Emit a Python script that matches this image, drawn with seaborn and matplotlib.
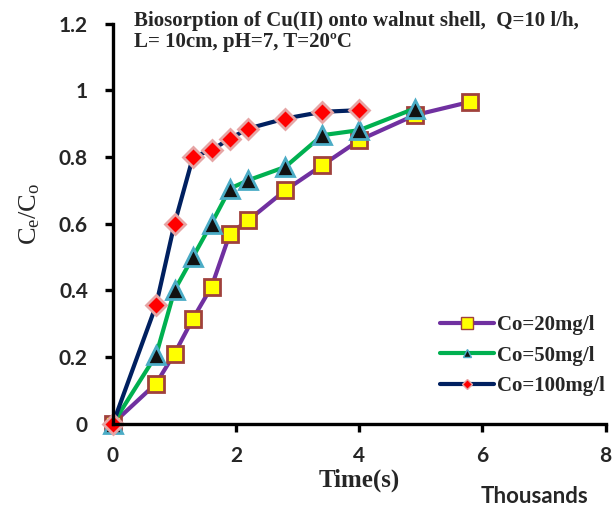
import matplotlib
matplotlib.use("Agg")
import matplotlib.pyplot as plt
from matplotlib.lines import Line2D
import pandas as pd
import seaborn as sns

# time in thousands of seconds, Ce/Co for each inlet concentration
time_20 = [0, 0.7, 1.0, 1.3, 1.6, 1.9, 2.2, 2.8, 3.4, 4.0, 4.9, 5.8]
ratio_20 = [0, 0.12, 0.21, 0.315, 0.41, 0.57, 0.61, 0.70, 0.775, 0.85, 0.925, 0.965]

time_50 = [0, 0.7, 1.0, 1.3, 1.6, 1.9, 2.2, 2.8, 3.4, 4.0, 4.9]
ratio_50 = [0, 0.205, 0.40, 0.50, 0.60, 0.705, 0.73, 0.77, 0.865, 0.88, 0.945]

time_100 = [0, 0.7, 1.0, 1.3, 1.6, 1.9, 2.2, 2.8, 3.4, 4.0]
ratio_100 = [0, 0.355, 0.60, 0.80, 0.82, 0.855, 0.885, 0.915, 0.935, 0.94]

labels = ["Co=20mg/l", "Co=50mg/l", "Co=100mg/l"]
y_ticks = [0, 0.2, 0.4, 0.6, 0.8, 1, 1.2]
y_tick_labels = ["0", "0.2", "0.4", "0.6", "0.8", "1", "1.2"]
x_ticks = [0, 2, 4, 6, 8]

sns.set_style("white")
plt.rcParams["font.family"] = ["Liberation Serif", "DejaVu Serif"]
plt.rcParams["mathtext.default"] = "regular"

series = [
    (time_20, ratio_20, dict(color="#7030A0", marker="s", ms=12, mfc="#FFFF00", mec="#A0413C", mew=2)),
    (time_50, ratio_50, dict(color="#00B050", marker="^", ms=13, mfc="#111111", mec="#4BACC6", mew=2)),
    (time_100, ratio_100, dict(color="#002060", marker="D", ms=10, mfc="#FF0000", mec="#E6A5A5", mew=2)),
]

fig = plt.figure(figsize=(6.13, 5.11), dpi=100)
ax = fig.add_axes([0.1843, 0.1712, 0.8037, 0.7828])

for (t, r, st), lab in zip(series, labels):
    df = pd.DataFrame({"time": t, "ratio": r})
    sns.lineplot(data=df, x="time", y="ratio", ax=ax, color=st["color"], linewidth=3,
                 marker=st["marker"], markersize=st["ms"], markerfacecolor=st["mfc"],
                 markeredgecolor=st["mec"], markeredgewidth=st["mew"], clip_on=False)

ax.set_xlim(0, 8)
ax.set_ylim(0, 1.2)
ax.set_xticks(x_ticks)
ax.set_yticks(y_ticks)
ax.set_yticklabels(y_tick_labels)
for lbl in ax.get_xticklabels() + ax.get_yticklabels():
    lbl.set_family("Lato")
    lbl.set_fontweight("bold")
    lbl.set_fontsize(15)

sns.despine(ax=ax)
for s in ["left", "bottom"]:
    ax.spines[s].set_linewidth(2.4)
    ax.spines[s].set_color("black")
ax.tick_params(axis="both", direction="out", length=6, width=2.4, color="black",
               bottom=True, left=True)
ax.tick_params(axis="y", pad=12)
ax.tick_params(axis="x", pad=10)

ax.set_xlabel("Time(s)", fontsize=18, fontweight="bold", labelpad=2)
ax.set_ylabel(r"$C_e/C_o$", fontsize=19)
ax.yaxis.set_label_coords(-0.145, 0.524)

fig.text(0.872, 0.028, "Thousands", family="Lato", fontweight="bold", fontsize=16,
         ha="center", va="center")

fig.text(134 / 613, 1 - 11 / 511,
         "Biosorption of Cu(II) onto walnut shell,  Q=10 l/h,\nL= 10cm, pH=7, T=20\u00baC",
         fontsize=15, fontweight="bold", va="top", ha="left", linespacing=1.05)

handles = [
    Line2D([], [], color=series[0][2]["color"], lw=3, marker="s", ms=8,
           mfc="#FFFF00", mec="#A0413C", mew=1),
    Line2D([], [], color=series[1][2]["color"], lw=3, marker="^", ms=6,
           mfc="#111111", mec="#4BACC6", mew=1),
    Line2D([], [], color=series[2][2]["color"], lw=3, marker="D", ms=5,
           mfc="#FF0000", mec="#E6A5A5", mew=1),
]
fig.legend(handles, labels, loc="center left", bbox_to_anchor=(440 / 613, 1 - 355.5 / 511),
           frameon=False, borderpad=0, borderaxespad=0, handlelength=2.6, handletextpad=0.15,
           labelspacing=0.5, prop={"family": "Liberation Serif", "weight": "bold", "size": 15})

fig.savefig("out.png", dpi=100)
